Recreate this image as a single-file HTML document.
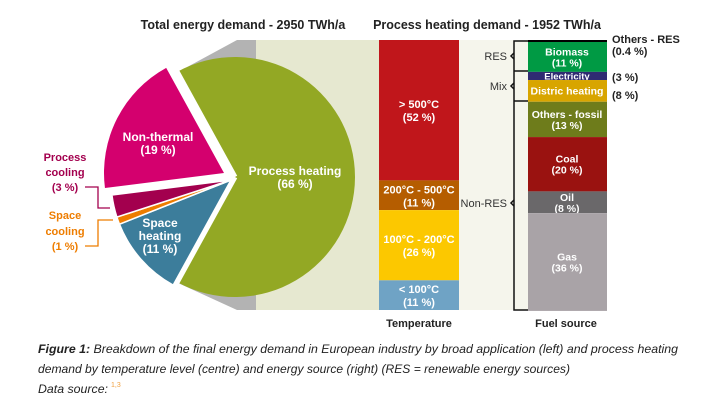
<!DOCTYPE html>
<html><head><meta charset="utf-8"><style>
html,body{margin:0;padding:0;background:#fff;}
svg{display:block;font-family:"Liberation Sans",sans-serif;}
</style></head><body>
<svg id="c" width="711" height="412" viewBox="0 0 711 412">
<rect x="256" y="40" width="123" height="270" fill="#e6e8d0"/>
<rect x="459" y="40" width="69" height="270" fill="#f5f5ec"/>
<polygon points="178,72 237,40 256,40 256,310 237,310 178,283 235,177" fill="#b3b3b3"/>
<g id="pie"></g>
<g id="temp"></g>
<g id="fuel"></g>
<text x="243" y="29" text-anchor="middle" font-size="12.5" font-weight="bold" fill="#222">Total energy demand - 2950 TWh/a</text>
<text x="487" y="29" text-anchor="middle" font-size="12.5" font-weight="bold" fill="#222">Process heating demand - 1952 TWh/a</text>
<g fill="none" stroke="#111" stroke-width="1.5">
<path d="M528,41 H514 V310 H528 M514,71 H528 M514,101 H528"/>
<path d="M514,53 L511,56 L514,59 M514,83 L511,86 L514,89 M514,200 L511,203 L514,206"/>
</g>
<g font-size="11" fill="#333" text-anchor="end">
<text x="507" y="60">RES</text>
<text x="507" y="90">Mix</text>
<text x="507" y="207">Non-RES</text>
</g>
<g font-size="11" fill="#222" font-weight="bold">
<text x="612" y="43">Others - RES</text>
<text x="612" y="55">(0.4 %)</text>
<text x="612" y="81">(3 %)</text>
<text x="612" y="99">(8 %)</text>
</g>
<text x="419" y="327" text-anchor="middle" font-size="11" font-weight="bold" fill="#222">Temperature</text>
<text x="566" y="327" text-anchor="middle" font-size="11" font-weight="bold" fill="#222">Fuel source</text>
<g font-size="11" font-weight="bold" text-anchor="middle" fill="#a3004e">
<text x="65" y="161">Process</text><text x="65" y="176">cooling</text><text x="65" y="191">(3 %)</text>
</g>
<path d="M85,187 H98 V208 H110" fill="none" stroke="#a3004e" stroke-width="1.3"/>
<g font-size="11" font-weight="bold" text-anchor="middle" fill="#ee7d00">
<text x="65" y="219">Space</text><text x="65" y="235">cooling</text><text x="65" y="250">(1 %)</text>
</g>
<path d="M85,246 H98 V220 H113" fill="none" stroke="#ee7d00" stroke-width="1.3"/>
<g font-size="12" fill="#222">
<text x="38" y="353" font-style="italic" textLength="640" lengthAdjust="spacingAndGlyphs"><tspan font-weight="bold">Figure 1:</tspan> Breakdown of the final energy demand in European industry by broad application (left) and process heating</text>
<text x="38" y="373" font-style="italic" textLength="532" lengthAdjust="spacingAndGlyphs">demand by temperature level (centre) and energy source (right) (RES = renewable energy sources)</text>
<text x="38" y="393" font-style="italic" textLength="70" lengthAdjust="spacingAndGlyphs">Data source:</text>
<text x="111" y="387" font-size="7" fill="#f0a040">1,3</text>
</g>
</svg>
<script>
const pieNames=["Process heating","Space heating","Space cooling","Process cooling","Non-thermal"];
const pieValues=[66,11,1,3,19];
const tempCats=["> 500°C","200°C - 500°C","100°C - 200°C","< 100°C"];
const tempValues=[52,11,26,11];
const fuelCats=["Others - RES","Biomass","Electricity","Distric heating","Others - fossil","Coal","Oil","Gas"];
const fuelValues=[0.4,11,3,8,13,20,8,36];

const NS="http://www.w3.org/2000/svg";
function mk(tag,attrs,parent){const e=document.createElementNS(NS,tag);for(const k in attrs)e.setAttribute(k,attrs[k]);parent.appendChild(e);return e;}
function txt(parent,x,y,s,size,fill){const t=mk("text",{x:x,y:y,"text-anchor":"middle","font-size":size,"font-weight":"bold",fill:fill},parent);t.textContent=s;return t;}

// pie
const pie=document.getElementById("pie");
const pieColors=["#93a824","#3c7d9b","#ee7d00","#a3004e","#d4006e"];
const centers=[[235,177],[231,180],[231,180],[231,180],[224,173]];
const R=120;
const tot=pieValues.reduce((a,b)=>a+b,0);
let start=-pieValues[0]/tot*180;
const pt=(c,a,r)=>[c[0]+r*Math.cos(a*Math.PI/180),c[1]+r*Math.sin(a*Math.PI/180)];
const pieLabels=[["Process heating","(66 %)"],["Space","heating","(11 %)"],null,null,["Non-thermal","(19 %)"]];
const labelPos=[[295,175],[160,227],null,null,[158,141]];
pieValues.forEach((v,i)=>{
  const sweep=v/tot*360, end=start+sweep, c=centers[i];
  const p1=pt(c,start,R),p2=pt(c,end,R);
  const path=mk("path",{d:`M${c[0]},${c[1]} L${p1[0]},${p1[1]} A${R},${R} 0 ${sweep>180?1:0} 1 ${p2[0]},${p2[1]} Z`,fill:pieColors[i],stroke:"#fff","stroke-width":i==4||i==0?0:1.5},pie);
  
  
  if(pieLabels[i]){pieLabels[i].forEach((s,j)=>{const t=txt(pie,labelPos[i][0],labelPos[i][1]+j*13,s,12,"#fff");
    
    });}
  start=end;
});
mk("path",{d:"M235,177 L"+pt([235,177],-118.8,R+5).join(",")+" M235,177 L"+pt([235,177],118.8,R+5).join(","),stroke:"#fff","stroke-width":5,fill:"none"},pie);

// temperature bar
const TOP=40,H=270;
const temp=document.getElementById("temp");
const tempColors=["#c0161b","#b55d00","#fcc800","#6fa3c5"];
const tsum=tempValues.reduce((a,b)=>a+b,0);
let y=TOP;
tempValues.forEach((v,i)=>{
  const h=v/tsum*H;
  const r=mk("rect",{x:379,y:y,width:80,height:h,fill:tempColors[i]},temp);
  
  
  const cy=y+h/2;
  const a=txt(temp,419,cy-2,tempCats[i],11,"#fff");
  
  
  const b=txt(temp,419,cy+11,"("+v+" %)",11,"#fff");
  
  
  y+=h;
});

// fuel bar
const fuel=document.getElementById("fuel");
const fuelColors=["#000","#009a44","#2f2b72","#d8a500","#6e7c1b","#9a1210","#6a686a","#a9a3a7"];
const fsum=fuelValues.reduce((a,b)=>a+b,0);
y=TOP;
fuelValues.forEach((v,i)=>{
  const h=Math.max(2,v/fsum*H);
  const r=mk("rect",{x:528,y:y,width:79,height:h,fill:fuelColors[i]},fuel);
  
  
  const cy=y+h/2;
  if(i==2||i==3){const a=txt(fuel,567,cy+3.5,fuelCats[i],i==2?9.5:10.5,"#fff");
    
    }
  else if(i>0){const a=txt(fuel,567,cy-1.5,fuelCats[i],10.5,"#fff");
    
    
    const b=txt(fuel,567,cy+9.5,"("+v+" %)",10.5,"#fff");
    
    }
  y+=h;
});
</script>
</body></html>
